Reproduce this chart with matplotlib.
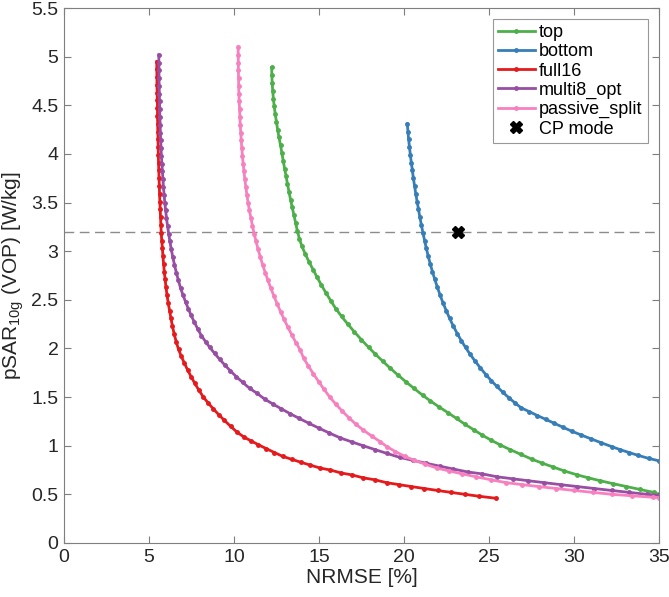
import numpy as np
import matplotlib
matplotlib.use("Agg")
import matplotlib.pyplot as plt
from matplotlib.ticker import FuncFormatter

plt.rcParams['font.family'] = ['Liberation Sans', 'DejaVu Sans']
plt.rcParams['mathtext.fontset'] = 'custom'
plt.rcParams['mathtext.rm'] = 'Liberation Sans'
plt.rcParams['mathtext.it'] = 'Liberation Sans'

# NRMSE [%] / pSAR10g [W/kg]
full16_x = [5.46, 5.46, 5.47, 5.47, 5.48, 5.49, 5.50, 5.50, 5.51, 5.52, 5.53, 5.54, 5.55, 5.56, 5.58,
            5.59, 5.61, 5.62, 5.64, 5.66, 5.68, 5.70, 5.72, 5.75, 5.79, 5.82, 5.86, 5.90, 5.95, 6.00,
            6.06, 6.13, 6.21, 6.29, 6.38, 6.48, 6.60, 6.74, 6.90, 7.08, 7.27, 7.48, 7.70, 7.94, 8.20,
            8.48, 8.78, 9.10, 9.44, 9.80, 10.18, 10.58, 11.00, 11.44, 11.90, 12.38, 12.88, 13.40, 13.94,
            14.50, 15.08, 15.68, 16.30, 16.94, 17.60, 18.28, 18.98, 19.70, 20.44, 21.20, 21.98, 22.78,
            23.60, 24.44, 25.40]
full16_y = [4.95, 4.87, 4.79, 4.71, 4.63, 4.55, 4.47, 4.39, 4.31, 4.23, 4.15, 4.07, 3.99, 3.91, 3.83,
            3.75, 3.67, 3.59, 3.51, 3.43, 3.35, 3.27, 3.19, 3.11, 3.03, 2.95, 2.87, 2.79, 2.71, 2.63,
            2.55, 2.47, 2.39, 2.31, 2.23, 2.15, 2.07, 1.99, 1.92, 1.85, 1.78, 1.71, 1.64, 1.57, 1.50,
            1.44, 1.38, 1.32, 1.26, 1.20, 1.14, 1.09, 1.05, 1.01, 0.97, 0.93, 0.89, 0.86, 0.83,
            0.80, 0.77, 0.75, 0.72, 0.70, 0.67, 0.65, 0.62, 0.60, 0.58, 0.56, 0.54, 0.52,
            0.50, 0.48, 0.46]

multi8_x = [5.58, 5.58, 5.59, 5.59, 5.60, 5.61, 5.62, 5.63, 5.64, 5.66, 5.67, 5.69, 5.71, 5.73, 5.76,
            5.79, 5.82, 5.85, 5.89, 5.93, 5.98, 6.03, 6.09, 6.16, 6.23, 6.31, 6.40, 6.50, 6.61, 6.73,
            6.86, 7.00, 7.15, 7.31, 7.48, 7.67, 7.87, 8.09, 8.33, 8.58, 8.86, 9.15, 9.46, 9.79, 10.14,
            10.52, 10.92, 11.35, 11.80, 12.28, 12.78, 13.30, 13.85, 14.42, 15.01, 15.62, 16.26, 16.92,
            17.60, 18.30, 19.02, 19.76, 20.52, 21.30, 22.10, 22.92, 23.76, 24.62, 25.50, 26.40, 27.32,
            28.26, 29.22, 30.20, 31.20, 32.22, 33.26, 34.32, 35.00]
multi8_y = [5.02, 4.94, 4.86, 4.78, 4.70, 4.62, 4.54, 4.46, 4.38, 4.30, 4.22, 4.14, 4.06, 3.98, 3.90,
            3.82, 3.74, 3.66, 3.58, 3.50, 3.42, 3.34, 3.26, 3.18, 3.10, 3.02, 2.94, 2.86, 2.78, 2.70,
            2.62, 2.55, 2.48, 2.41, 2.34, 2.27, 2.20, 2.13, 2.07, 2.01, 1.95, 1.89, 1.83, 1.77, 1.71,
            1.65, 1.59, 1.54, 1.48, 1.43, 1.38, 1.33, 1.28, 1.23, 1.18, 1.13, 1.08, 1.04,
            1.00, 0.96, 0.92, 0.88, 0.85, 0.82, 0.79, 0.76, 0.73, 0.71, 0.68, 0.66, 0.64,
            0.62, 0.60, 0.58, 0.56, 0.54, 0.52, 0.50, 0.49]

passive_x = [10.25, 10.25, 10.26, 10.26, 10.27, 10.28, 10.29, 10.31, 10.33, 10.35, 10.37, 10.40, 10.43,
             10.46, 10.50, 10.54, 10.59, 10.64, 10.70, 10.76, 10.83, 10.91, 11.00, 11.09, 11.19, 11.30,
             11.42, 11.55, 11.69, 11.84, 12.00, 12.17, 12.35, 12.54, 12.74, 12.95, 13.17, 13.40, 13.65,
             13.91, 14.10, 14.38, 14.67, 14.98, 15.30, 15.64, 15.98, 16.35, 16.75, 17.18, 17.62, 18.10,
             18.62, 19.00, 19.50, 20.05, 20.62, 21.25, 21.95, 22.68, 23.45, 24.26, 25.12, 26.02, 26.96,
             27.94, 28.96, 30.02, 31.12, 32.26, 33.44, 34.66, 35.00]
passive_y = [5.10, 5.02, 4.94, 4.86, 4.78, 4.70, 4.62, 4.54, 4.46, 4.38, 4.30, 4.22, 4.14,
             4.06, 3.98, 3.90, 3.82, 3.74, 3.66, 3.58, 3.50, 3.42, 3.34, 3.26, 3.18, 3.10,
             3.02, 2.94, 2.86, 2.78, 2.70, 2.62, 2.54, 2.46, 2.38, 2.30, 2.22, 2.14, 2.06,
             1.98, 1.90, 1.82, 1.74, 1.66, 1.58, 1.50, 1.43, 1.36, 1.29, 1.22, 1.16, 1.10,
             1.04, 0.99, 0.94, 0.89, 0.85, 0.81, 0.77, 0.74, 0.71, 0.68, 0.65, 0.62, 0.60,
             0.58, 0.56, 0.54, 0.52, 0.50, 0.485, 0.47, 0.465]

top_x = [12.22, 12.23, 12.25, 12.28, 12.32, 12.37, 12.43, 12.50, 12.57, 12.65, 12.74, 12.82, 12.90,
         12.98, 13.07, 13.15, 13.24, 13.33, 13.43, 13.53, 13.63, 13.73, 13.85, 14.00, 14.20, 14.42,
         14.66, 14.90, 15.15, 15.42, 15.70, 15.99, 16.33, 16.70, 17.09, 17.50, 17.93, 18.33, 18.75,
         19.18, 19.63, 20.10, 20.59, 21.10, 21.56, 22.06, 22.59, 23.10, 23.60, 24.15, 24.60, 25.10,
         25.65, 26.25, 26.90, 27.55, 28.15, 28.80, 29.45, 30.20, 30.85, 31.55, 32.30, 33.10, 33.90,
         34.70, 35.00]
top_y = [4.89, 4.81, 4.73, 4.65, 4.57, 4.49, 4.41, 4.33, 4.25, 4.17, 4.09, 4.01, 3.93,
         3.85, 3.77, 3.69, 3.61, 3.53, 3.45, 3.37, 3.29, 3.21, 3.13, 3.05, 2.97, 2.89,
         2.81, 2.73, 2.65, 2.57, 2.49, 2.41, 2.33, 2.25, 2.17, 2.09, 2.01, 1.94, 1.87,
         1.80, 1.73, 1.66, 1.59, 1.52, 1.46, 1.40, 1.34, 1.28, 1.22, 1.16, 1.11, 1.06,
         1.01, 0.96, 0.91, 0.86, 0.82, 0.78, 0.74, 0.70, 0.67, 0.64, 0.61, 0.58, 0.55,
         0.52, 0.50]

bottom_x = [20.20, 20.24, 20.28, 20.33, 20.38, 20.44, 20.50, 20.56, 20.63, 20.70, 20.78, 20.86, 20.94,
            21.03, 21.12, 21.22, 21.32, 21.43, 21.55, 21.68, 21.82, 21.97, 22.13, 22.30, 22.49, 22.69,
            22.91, 23.15, 23.38, 23.63, 23.90, 24.19, 24.50, 24.83, 25.14, 25.47, 25.82, 26.20, 26.54,
            26.90, 27.38, 27.86, 28.36, 28.86, 29.36, 29.87, 30.44, 31.02, 31.62, 32.24, 32.72, 33.25,
            33.80, 34.40, 35.00]
bottom_y = [4.31, 4.23, 4.15, 4.07, 3.99, 3.91, 3.83, 3.75, 3.67, 3.59, 3.51, 3.43, 3.35,
            3.27, 3.19, 3.11, 3.03, 2.95, 2.87, 2.79, 2.71, 2.63, 2.55, 2.47, 2.39, 2.31,
            2.23, 2.15, 2.08, 2.01, 1.94, 1.87, 1.80, 1.73, 1.67, 1.61, 1.55, 1.49, 1.44,
            1.39, 1.35, 1.31, 1.27, 1.23, 1.19, 1.15, 1.11, 1.07, 1.03, 0.99, 0.96, 0.93,
            0.90, 0.87, 0.845]

cp_x = [23.2]
cp_y = [3.2]
limit_sar = 3.2

fig = plt.figure(figsize=(6.69, 5.97), dpi=100)
ax = fig.add_axes([0.0957, 0.0905, 0.889, 0.896])

style = dict(lw=2, marker='.', ms=5)
ax.axhline(limit_sar, color='#8c8c8c', lw=1, ls=(0, (7, 4)), zorder=1)
ax.plot(top_x, top_y, color='#4daf4a', label='top', **style)
ax.plot(bottom_x, bottom_y, color='#377eb8', label='bottom', **style)
ax.plot(full16_x, full16_y, color='#e41a1c', label='full16', **style)
ax.plot(multi8_x, multi8_y, color='#984ea3', label='multi8_opt', **style)
ax.plot(passive_x, passive_y, color='#f781bf', label='passive_split', **style)
ax.plot(cp_x, cp_y, 'X', color='k', ms=8, ls='none', label='CP mode')

ax.set_xlim(0, 35)
ax.set_ylim(0, 5.5)
ax.set_xticks(np.arange(0, 36, 5))
ax.set_yticks(np.arange(0, 5.51, 0.5))
ax.yaxis.set_major_formatter(FuncFormatter(lambda v, p: '%g' % v))
ax.tick_params(direction='in', top=True, right=True, length=5, color='#7f7f7f',
               labelsize=14, labelcolor='#262626', pad=4)
for s in ax.spines.values():
    s.set_color('#7f7f7f')
ax.set_xlabel('NRMSE [%]', fontsize=15, color='#262626', labelpad=2)
ax.set_ylabel('pSAR$_{\\mathrm{10g}}$ (VOP) [W/kg]', fontsize=15, color='#262626', labelpad=4)

leg = ax.legend(loc='upper right', fontsize=13, frameon=True, fancybox=False, edgecolor='#7f7f7f',
                handlelength=2.0, handletextpad=0.25, borderpad=0.3, labelspacing=0.12,
                borderaxespad=0.6)
leg.get_frame().set_linewidth(0.8)

fig.savefig('out.png', dpi=100)
